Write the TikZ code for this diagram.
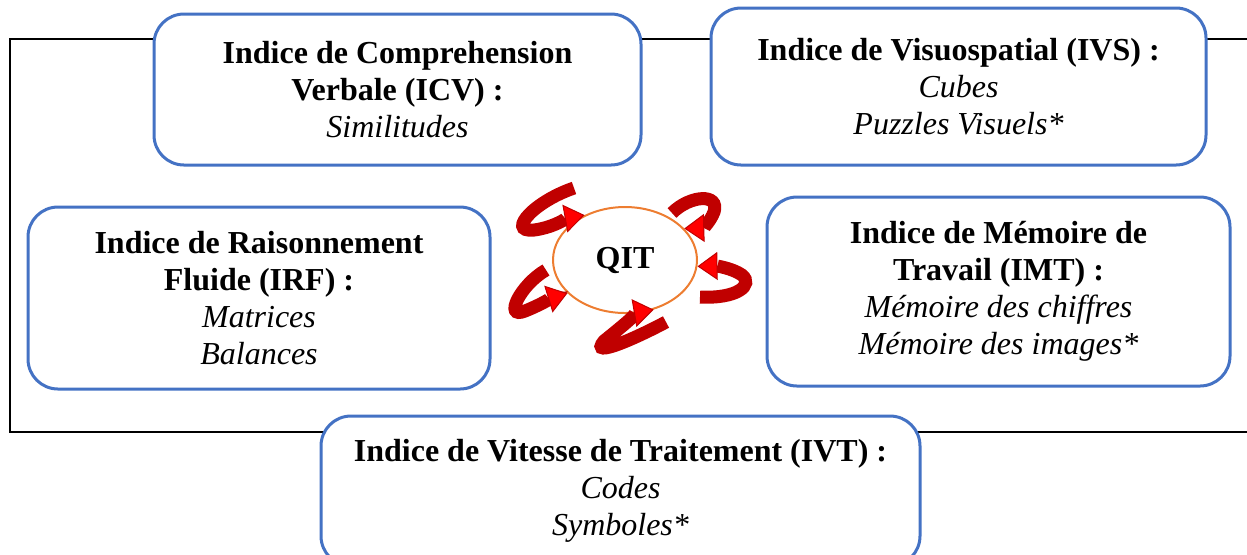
\documentclass[tikz,border=0pt]{standalone}
\usepackage{fontspec}
\setmainfont{Liberation Serif}
\usetikzlibrary{shapes.geometric, arrows.meta}
\definecolor{boxblue}{HTML}{4472C4}
\definecolor{ringorange}{HTML}{ED7D31}
\definecolor{swirlred}{HTML}{C00000}
\tikzset{
  x=0.5pt, y=-0.5pt,
  every node/.style={font=\fontsize{16}{18.5}\selectfont, align=center},
  indbox/.style={draw=boxblue, line width=1.5pt, rounded corners=15pt, fill=white},
  swirl/.style={draw=swirlred, line width=6.5pt,
    -{Triangle[width=14pt, length=10pt, fill=red, color=swirlred, line width=0.5pt]}},
}

\begin{document}
\begin{tikzpicture}
  \useasboundingbox (0,0) rectangle (1247,554);
  \draw[line width=1.1pt] (1270,39) -| (10,432) -- (1270,432);

  \node[indbox, minimum width=243.5pt, minimum height=75.5pt] (icv) at (397.5,89.5)
    {\textbf{Indice de Comprehension}\\\textbf{Verbale (ICV) :}\\\textit{Similitudes}};
  \node[indbox, minimum width=247.5pt, minimum height=78.5pt] (ivs) at (958.5,86.5)
    {\textbf{Indice de Visuospatial (IVS) :}\\\textit{Cubes}\\\textit{Puzzles Visuels*}};
  \node[indbox, minimum width=231pt, minimum height=91pt] (irf) at (259,298)
    {\textbf{Indice de Raisonnement}\\\textbf{Fluide (IRF) :}\\\textit{Matrices}\\\textit{Balances}};
  \node[indbox, minimum width=231.5pt, minimum height=94.5pt] (imt) at (998.5,291.5)
    {\textbf{Indice de Mémoire de}\\\textbf{Travail (IMT) :}\\\textit{Mémoire des chiffres}\\\textit{Mémoire des images*}};
  \node[indbox, minimum width=299.5pt, minimum height=75pt] (ivt) at (620.5,491)
    {\textbf{Indice de Vitesse de Traitement (IVT) :}\\\textit{Codes}\\\textit{Symboles*}};

  \node[ellipse, draw=ringorange, line width=1pt, minimum width=72pt, minimum height=53pt] (qit) at (625,260)
    {\textbf{QIT}};

  % curled arrows round QIT
  \draw[swirl] (574,188) .. controls (530,203) and (503,237) .. (540,229)
    .. controls (555,226) and (568,218) .. (qit.132);
  \draw[swirl] (672,213) .. controls (690,195) and (720,193) .. (714,212)
    .. controls (710,222) and (703,228) .. (qit.28);
  \draw[swirl] (700,297) .. controls (737,299) and (754,285) .. (742,275)
    .. controls (732,268) and (716,266) .. (qit.-5);
  \draw[swirl] (546,270) .. controls (520,285) and (503,320) .. (525,311)
    .. controls (540,305) and (552,298) .. (qit.210);
  \draw[swirl] (666,322) .. controls (640,336) and (588,360) .. (604,341)
    .. controls (620,328) and (640,312) .. (qit.300);
\end{tikzpicture}
\end{document}
